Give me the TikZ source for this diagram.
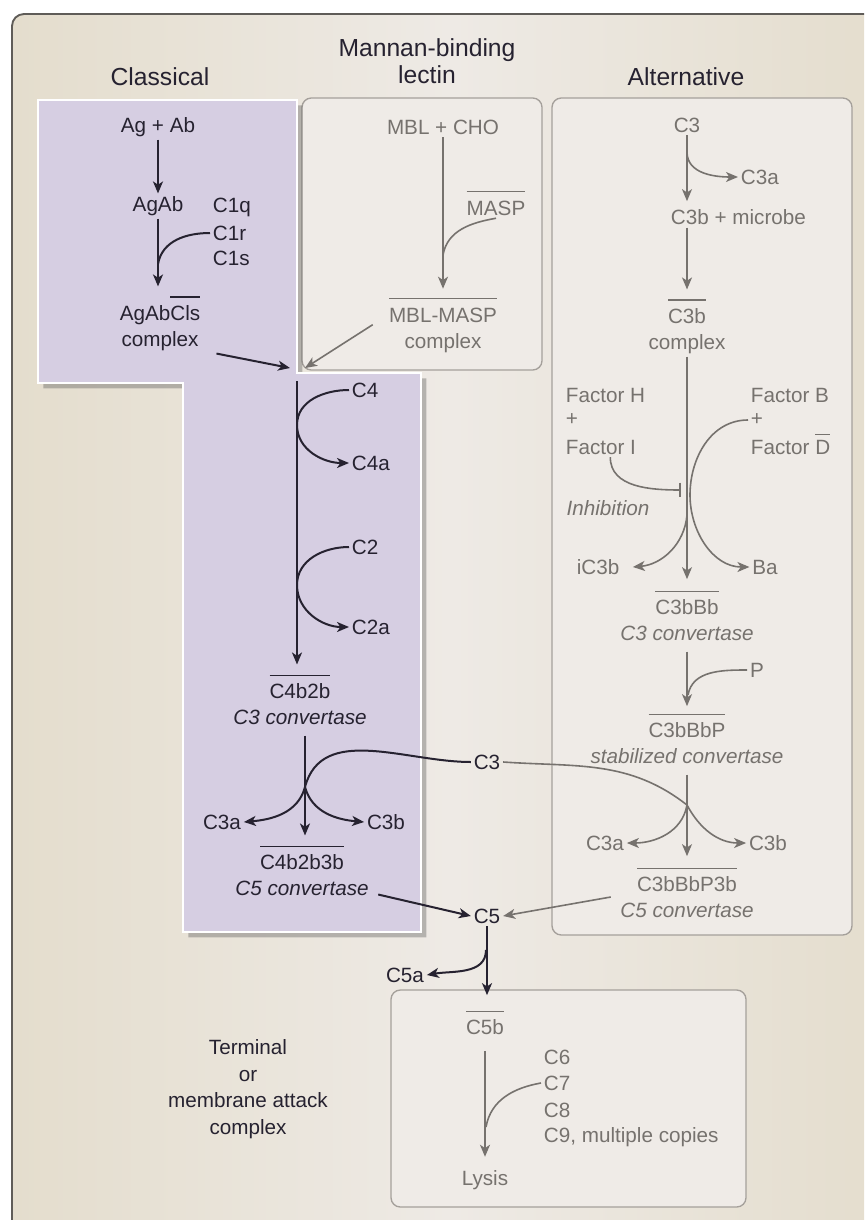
\documentclass[tikz,border=0pt]{standalone}
\usepackage{fontspec}
\setmainfont{Liberation Sans}
\usetikzlibrary{arrows.meta, shadows}

\definecolor{ink}{RGB}{38,34,48}
\definecolor{fade}{RGB}{118,114,110}
\definecolor{paperA}{RGB}{228,221,205}
\definecolor{paperB}{RGB}{238,234,229}
\definecolor{frameline}{RGB}{95,92,88}
\definecolor{panel}{RGB}{239,235,231}
\definecolor{panelline}{RGB}{165,160,155}
\definecolor{lilac}{RGB}{214,206,226}

\newsavebox\ovlbox
\newcommand\ovl[2][17pt]{\sbox\ovlbox{#2}\rlap{\smash{\rule[#1]{\wd\ovlbox}{0.9pt}}}\usebox\ovlbox}

\tikzset{
  lbl/.style={font=\fontsize{15.5}{19.5}\selectfont, text=ink, inner sep=2pt, align=center},
  glbl/.style={lbl, text=fade},
  head/.style={font=\fontsize{18.5}{20.5}\selectfont, text=ink, align=center},
  arr/.style={draw=ink, line width=1.5pt, -{Stealth[length=9pt,width=7.5pt,inset=2.5pt]}},
  garr/.style={draw=fade, line width=1.2pt, -{Stealth[length=9pt,width=7.5pt,inset=2.5pt]}},
  feed/.style={draw=ink, line width=1.5pt},
  gfeed/.style={draw=fade, line width=1.2pt},
  panelbox/.style={fill=panel, draw=panelline, line width=1pt, rounded corners=7pt},
}

\begin{document}
\begin{tikzpicture}[x=0.75pt, y=-0.75pt]
    \useasboundingbox (0,0) rectangle (864,1220);
    \clip (0,0) rectangle (864,1220);
    \fill[white] (0,0) rectangle (864,1220);
    \shade[rounded corners=9pt, left color=paperA, right color=paperA, middle color=paperB]
        (12,14) rectangle (890,1250);
    \draw[rounded corners=9pt, frameline, line width=1.4pt] (12,14) rectangle (890,1250);

    \node[head] (hcl) at (160,77) {Classical};
    \node[head] (hmbl) at (427,61) {Mannan-binding\\lectin};
    \node[head] (halt) at (686,77) {Alternative};

    \draw[panelbox] (302,98) rectangle (542,370);
    \draw[panelbox] (552,98) rectangle (852,935);
    \draw[panelbox] (391,990) rectangle (746,1207);
    \path[fill=lilac, draw=white, line width=2pt,
        drop shadow={shadow xshift=4pt, shadow yshift=-4pt, opacity=0.35, fill=black!70}]
        (38,100) -- (297,100) -- (297,373) -- (421,373) -- (421,932)
        -- (183,932) -- (183,383) -- (38,383) -- cycle;

    \node[lbl] (agab0) at (158,127) {Ag + Ab};
    \node[lbl] (agab) at (158,206) {AgAb};
    \node[lbl, anchor=west] (c1q) at (210,207) {C1q};
    \node[lbl, anchor=west] (c1r) at (210,233) {C1r};
    \node[lbl, anchor=west] (c1s) at (210,258) {C1s};
    \node[lbl] (agabcls) at (160,328) {AgAb\ovl{Cls}\\complex};
    \coordinate (m1) at (158,264);
    \draw[arr] (agab0) -- (agab);
    \draw[arr, shorten >=12pt] (agab) -- (agab |- agabcls.north);
    \draw[feed] (c1r.west) to[out=180, in=80] (m1);

    \node[glbl] (mblcho) at (443,127) {MBL + CHO};
    \node[glbl] (masp) at (496,208) {\ovl{MASP}};
    \node[glbl] (mblmasp) at (443,330) {\ovl{MBL-MASP}\\complex};
    \coordinate (m2) at (443,255);
    \draw[garr, shorten >=12pt] (mblcho) -- (mblcho |- mblmasp.north);
    \draw[gfeed] (masp.south) to[out=190, in=80] (m2);

    \coordinate (jn) at (297,381);
    \coordinate (jl) at (290,368);
    \coordinate (jr) at (305,368);
    \draw[arr] ([xshift=10pt]agabcls.south east) -- (jl);
    \draw[garr] ([xshift=-10pt, yshift=4pt]mblmasp.west) -- (jr);

    \node[lbl, anchor=west] (c4) at (349,390) {C4};
    \node[lbl, anchor=west] (c4a) at (349,463) {C4a};
    \node[lbl, anchor=west] (c2) at (349,547) {C2};
    \node[lbl, anchor=west] (c2a) at (349,627) {C2a};
    \node[lbl] (c4b2b) at (300,704) {\ovl{C4b2b}\\\textit{C3 convertase}};
    \coordinate (t4) at (297,425);
    \coordinate (t2) at (297,585);
    \draw[arr, shorten >=12pt] (jn) -- (jn |- c4b2b.north);
    \draw[arr] (c4.west) to[out=180, in=90] (t4) to[out=-90, in=180] (c4a.west);
    \draw[arr] (c2.west) to[out=180, in=90] (t2) to[out=-90, in=180] (c2a.west);

    \node[lbl] (c3mid) at (487,762) {C3};
    \node[lbl] (c3a1) at (222,822) {C3a};
    \node[lbl] (c3b1) at (386,822) {C3b};
    \node[lbl] (c4b2b3b) at (302,875) {\ovl{C4b2b3b}\\\textit{C5 convertase}};
    \coordinate (b1) at (305,787);
    \draw[arr, shorten <=6pt, shorten >=12pt] (b1 |- c4b2b.south) -- (b1 |- c4b2b3b.north);
    \draw[arr] (c3mid.west) to[out=180, in=75] (b1) to[out=-105, in=5] (c3a1.east);
    \draw[arr] (b1) to[out=-75, in=175] (c3b1.west);

    \node[lbl] (c5) at (487,916) {C5};
    \node[lbl] (c5a) at (405,975) {C5a};
    \node[glbl] (c5b) at (485,1027) {\ovl{C5b}};
    \coordinate (b5) at (486,950);
    \draw[arr] ([xshift=5pt, yshift=3pt]c4b2b3b.south east) -- (c5.west);
    \draw[arr, shorten >=16pt] (c5) -- (c5 |- c5b.north);
    \draw[arr] (b5) to[out=-90, in=10] (c5a.east);

    \node[glbl, anchor=west] (c6) at (541,1057) {C6};
    \node[glbl, anchor=west] (c7) at (541,1083) {C7};
    \node[glbl, anchor=west] (c8) at (541,1110) {C8};
    \node[glbl, anchor=west] (c9) at (541,1137) {C9, multiple copies};
    \node[glbl] (lysis) at (485,1180) {Lysis};
    \coordinate (m5) at (486,1127);
    \draw[garr, shorten <=10pt, shorten >=8pt] (c5b) -- (lysis);
    \draw[gfeed] (c7.west) to[out=190, in=80] (m5);
    \node[lbl, font=\fontsize{15.5}{20}\selectfont] (mac) at (248,1089)
        {Terminal\\or\\membrane attack\\complex};

    \node[glbl] (ac3) at (687,125) {C3};
    \node[glbl, anchor=west] (ac3a) at (738,177) {C3a};
    \node[glbl, anchor=west] (micro) at (668,217) {C3b + microbe};
    \node[glbl] (c3bx) at (687,331) {\ovl{C3b}\\complex};
    \coordinate (a0) at (687,152);
    \draw[garr, shorten >=4pt] (ac3) -- (ac3 |- micro.north);
    \draw[garr] (a0) to[out=-90, in=180] (ac3a.west);
    \draw[garr, shorten >=12pt] (ac3 |- micro.south) -- (c3bx.north);

    \node[glbl, anchor=west] (fh) at (563,395) {Factor H};
    \node[glbl, anchor=west] (fplus1) at (563,420) {+};
    \node[glbl, anchor=west] (fi) at (563,447) {Factor I};
    \node[glbl, anchor=west] (fb) at (748,395) {Factor B};
    \node[glbl, anchor=west] (fplus2) at (748,420) {+};
    \node[glbl, anchor=west] (fd) at (748,447) {Factor \ovl[14pt]{D}};
    \node[glbl, font=\fontsize{15.5}{19.5}\selectfont\itshape] (inhib) at (608,508) {Inhibition};
    \node[glbl] (ic3b) at (598,567) {iC3b};
    \node[glbl] (ba) at (765,567) {Ba};
    \node[glbl] (c3bbb) at (687,620) {\ovl{C3bBb}\\\textit{C3 convertase}};
    \coordinate (ibar) at (681,490);
    \coordinate (tb) at (690,495);
    \coordinate (ti) at (687,515);
    \draw[garr, shorten >=13pt] (c3bx) -- (c3bbb.north);
    \draw[gfeed, -{Bar[width=11pt]}] ([xshift=7pt]fi.south) to[out=-90, in=180] (ibar);
    \draw[garr] (fplus2.west) to[out=180, in=90] (tb) to[out=-90, in=180] (ba.west);
    \draw[garr] (ti) to[out=-95, in=5] ([xshift=8pt]ic3b.east);

    \node[glbl] (p) at (757,670) {P};
    \node[glbl] (c3bbbp) at (687,743) {\ovl{C3bBbP}\\\textit{stabilized convertase}};
    \coordinate (tp) at (688,695);
    \draw[garr, shorten <=6pt, shorten >=10pt] (c3bbb) -- (c3bbbp.north);
    \draw[gfeed] (p.west) to[out=180, in=80] (tp);

    \node[glbl] (c3a2) at (605,843) {C3a};
    \node[glbl] (c3b2) at (768,843) {C3b};
    \node[glbl] (c3bbbp3b) at (687,897) {\ovl{C3bBbP3b}\\\textit{C5 convertase}};
    \coordinate (b2) at (687,805);
    \draw[garr, shorten <=6pt, shorten >=13pt] (c3bbbp) -- (c3bbbp3b.north);
    \draw[garr] (c3mid.east) to[out=-4, in=142] (b2) to[out=-62, in=180] (c3b2.west);
    \draw[garr] (b2) to[out=-100, in=0] (c3a2.east);
    \draw[garr] ([xshift=-5pt]c3bbbp3b.west) -- (c5.east);
\end{tikzpicture}
\end{document}
